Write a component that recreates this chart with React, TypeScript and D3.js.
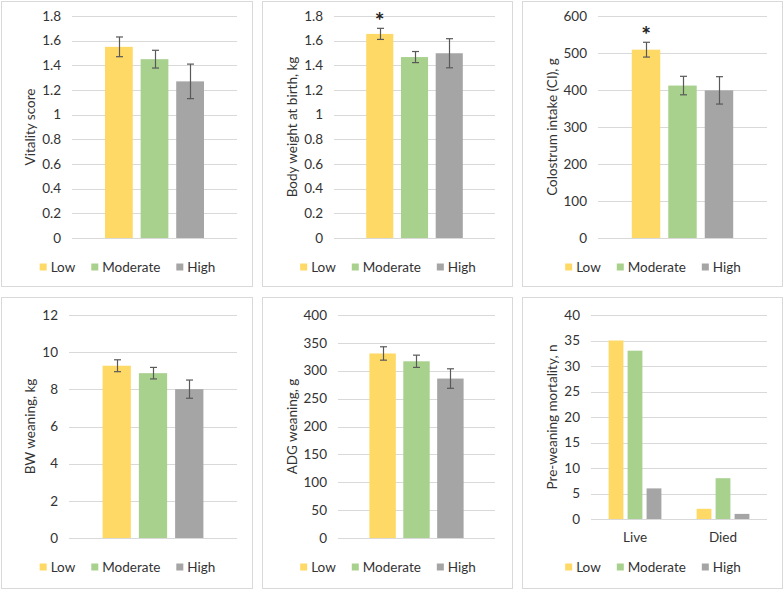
import { useEffect, useRef } from 'react';
import * as d3 from 'd3';

// Treatment groups and colours
const levels = ['Low', 'Moderate', 'High'];
const levelColors = ['#FFD966', '#A9D18E', '#A5A5A5'];

// Panel values (mean and error half-width per group)
const vitalityMean = [1.55, 1.45, 1.27];
const vitalityErr = [0.08, 0.072, 0.14];
const birthWeightMean = [1.655, 1.467, 1.498];
const birthWeightErr = [0.045, 0.045, 0.118];
const colostrumMean = [509, 412, 399];
const colostrumErr = [20, 25, 37];
const bwWeaningMean = [9.27, 8.87, 8.01];
const bwWeaningErr = [0.32, 0.31, 0.49];
const adgMean = [331, 317, 286];
const adgErr = [12, 11, 17.5];
const mortalityCategories = ['Live', 'Died'];
const mortalityLow = [35, 2];
const mortalityModerate = [33, 8];
const mortalityHigh = [6, 1];

// Tick values
const ticksScore = [0, 0.2, 0.4, 0.6, 0.8, 1, 1.2, 1.4, 1.6, 1.8];
const ticksColostrum = [0, 100, 200, 300, 400, 500, 600];
const ticksBw = [0, 2, 4, 6, 8, 10, 12];
const ticksAdg = [0, 50, 100, 150, 200, 250, 300, 350, 400];
const ticksMortality = [0, 5, 10, 15, 20, 25, 30, 35, 40];

interface PanelSpec {
  box: [number, number, number, number]; // x0, y0, x1, y1
  plot: [number, number, number, number]; // left, top, right, bottom
  title: string;
  titleX: number;
  ticks: number[];
  categories: string[];
  values: number[][]; // [level][category]
  errors?: number[][];
  star?: boolean;
  legendY: number;
}

const FONT = 'Lato, "Open Sans", sans-serif';
const TEXT = '#333333';

const panels: PanelSpec[] = [
  {
    box: [1, 1, 252, 286], plot: [72, 16, 237, 238], title: 'Vitality score', titleX: 30,
    ticks: ticksScore, categories: [''], values: vitalityMean.map(v => [v]),
    errors: vitalityErr.map(v => [v]), legendY: 267
  },
  {
    box: [262, 1, 512, 286], plot: [334, 16, 495, 238], title: 'Body weight at birth, kg', titleX: 292,
    ticks: ticksScore, categories: [''], values: birthWeightMean.map(v => [v]),
    errors: birthWeightErr.map(v => [v]), star: true, legendY: 267
  },
  {
    box: [522, 1, 782, 286], plot: [598, 16, 767, 238], title: 'Colostrum intake (CI), g', titleX: 552,
    ticks: ticksColostrum, categories: [''], values: colostrumMean.map(v => [v]),
    errors: colostrumErr.map(v => [v]), star: true, legendY: 267
  },
  {
    box: [1, 297, 252, 588], plot: [69, 315, 237, 538], title: 'BW weaning, kg', titleX: 30,
    ticks: ticksBw, categories: [''], values: bwWeaningMean.map(v => [v]),
    errors: bwWeaningErr.map(v => [v]), legendY: 567
  },
  {
    box: [262, 297, 512, 588], plot: [338, 315, 495, 538], title: 'ADG weaning, g', titleX: 292,
    ticks: ticksAdg, categories: [''], values: adgMean.map(v => [v]),
    errors: adgErr.map(v => [v]), legendY: 567
  },
  {
    box: [522, 297, 782, 588], plot: [591, 315, 767, 519], title: 'Pre-weaning mortality, n', titleX: 552,
    ticks: ticksMortality, categories: mortalityCategories,
    values: [mortalityLow, mortalityModerate, mortalityHigh], legendY: 567
  }
];

const drawPanel = (svg: d3.Selection<SVGSVGElement, unknown, null, undefined>, p: PanelSpec) => {
  const [bx0, by0, bx1, by1] = p.box;
  const [left, top, right, bottom] = p.plot;
  const g = svg.append('g');

  g.append('rect')
    .attr('x', bx0 + 0.5).attr('y', by0 + 0.5)
    .attr('width', bx1 - bx0).attr('height', by1 - by0)
    .attr('fill', '#fff').attr('stroke', '#d9d9d9');

  const y = d3.scaleLinear()
    .domain([0, p.ticks[p.ticks.length - 1]])
    .range([bottom, top]);

  const x0 = d3.scaleBand<string>()
    .domain(p.categories)
    .range([left, right])
    .paddingInner(0.4)
    .paddingOuter(0.2);

  const x1 = d3.scaleBand<string>()
    .domain(levels)
    .range([0, x0.bandwidth()])
    .paddingInner(0.22);

  // gridlines
  g.append('g').selectAll('line')
    .data(p.ticks)
    .join('line')
    .attr('x1', left).attr('x2', right)
    .attr('y1', d => Math.round(y(d)) + 0.5).attr('y2', d => Math.round(y(d)) + 0.5)
    .attr('stroke', '#d9d9d9');

  // tick labels
  g.append('g').selectAll('text')
    .data(p.ticks)
    .join('text')
    .attr('x', left - 11)
    .attr('y', d => y(d))
    .attr('dy', '0.35em')
    .attr('text-anchor', 'end')
    .attr('font-family', FONT)
    .attr('font-size', 13.5)
    .attr('fill', TEXT)
    .text(d => String(d));

  // bars
  levels.forEach((lvl, li) => {
    p.categories.forEach((cat, ci) => {
      const v = p.values[li][ci];
      const bx = (x0(cat) ?? 0) + (x1(lvl) ?? 0);
      const bw = x1.bandwidth();
      g.append('rect')
        .attr('x', bx).attr('y', y(v))
        .attr('width', bw).attr('height', bottom - y(v))
        .attr('fill', levelColors[li]);

      if (p.errors) {
        const e = p.errors[li][ci];
        const cx = Math.round(bx + bw / 2) + 0.5;
        const eb = g.append('g').attr('stroke', '#595959').attr('stroke-width', 1.2);
        eb.append('line').attr('x1', cx).attr('x2', cx).attr('y1', y(v + e)).attr('y2', y(v - e));
        eb.append('line').attr('x1', cx - 3.5).attr('x2', cx + 3.5).attr('y1', y(v + e)).attr('y2', y(v + e));
        eb.append('line').attr('x1', cx - 3.5).attr('x2', cx + 3.5).attr('y1', y(v - e)).attr('y2', y(v - e));
        if (p.star && li === 0) {
          g.append('text')
            .attr('x', bx + bw / 2)
            .attr('y', y(v + e) + 1)
            .attr('text-anchor', 'middle')
            .attr('font-family', FONT)
            .attr('font-size', 23)
            .attr('font-weight', 'bold')
            .attr('fill', '#222')
            .text('*');
        }
      }
    });
  });

  // category labels
  p.categories.filter(c => c !== '').forEach(cat => {
    g.append('text')
      .attr('x', (x0(cat) ?? 0) + x0.bandwidth() / 2)
      .attr('y', bottom + 18)
      .attr('dy', '0.35em')
      .attr('text-anchor', 'middle')
      .attr('font-family', FONT)
      .attr('font-size', 13.5)
      .attr('fill', TEXT)
      .text(cat);
  });

  // axis title
  g.append('text')
    .attr('transform', `translate(${p.titleX}, ${(top + bottom) / 2}) rotate(-90)`)
    .attr('text-anchor', 'middle')
    .attr('dy', '0.35em')
    .attr('font-family', FONT)
    .attr('font-size', 13.5)
    .attr('fill', TEXT)
    .text(p.title);

  // legend
  const leg = g.append('g');
  let cursor = 0;
  levels.forEach((lvl, i) => {
    const item = leg.append('g').attr('transform', `translate(${cursor}, 0)`);
    item.append('rect')
      .attr('x', 0).attr('y', p.legendY - 3.5)
      .attr('width', 7).attr('height', 7)
      .attr('fill', levelColors[i]);
    const t = item.append('text')
      .attr('x', 11).attr('y', p.legendY)
      .attr('dy', '0.35em')
      .attr('font-family', FONT)
      .attr('font-size', 13.5)
      .attr('fill', TEXT)
      .text(lvl);
    const w = (t.node() as SVGTextElement).getComputedTextLength();
    cursor += 11 + w + (i < levels.length - 1 ? 16 : 0);
  });
  const cx = (bx0 + bx1) / 2 + 1;
  leg.attr('transform', `translate(${cx - cursor / 2}, 0)`);
};

export default function App() {
  const svgRef = useRef<SVGSVGElement>(null);

  useEffect(() => {
    if (!svgRef.current) return;
    const svg = d3.select(svgRef.current);
    svg.selectAll('*').remove();
    panels.forEach(p => drawPanel(svg, p));
  }, []);

  return (
    <svg
      ref={svgRef}
      width={784}
      height={590}
      style={{ position: 'absolute', left: 0, top: 0, background: '#fff' }}
    />
  );
}
